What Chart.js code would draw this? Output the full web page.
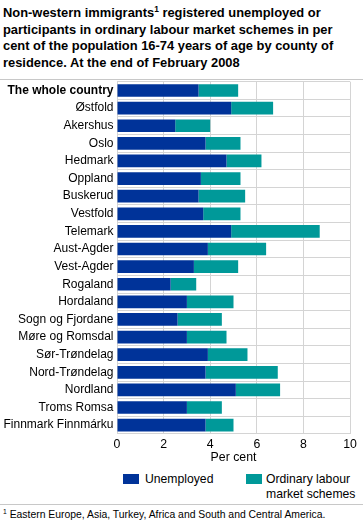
<!DOCTYPE html>
<html>
<head>
<meta charset="utf-8">
<script src="https://cdn.jsdelivr.net/npm/chart.js@4.4.1/dist/chart.umd.min.js"></script>
<style>
  html, body { margin:0; padding:0; background:#fff; }
  body { width:363px; height:523px; position:relative; overflow:hidden; font-family:'Liberation Sans', Arial, sans-serif; color:#000; }
  #title { position:absolute; left:3px; top:5px; width:360px; font-weight:bold; font-size:12.9px; line-height:16.7px; white-space:nowrap; }
  #title sup, #foot sup { font-size:65%; line-height:0; vertical-align:super; }
  .sep { position:absolute; left:0; width:363px; height:1px; background:#c8c8c8; }
  #wrap { position:absolute; left:0; top:71px; width:363px; height:393px; }
  #legend { position:absolute; top:472px; left:0; width:363px; font-size:12.2px; line-height:15px; }
  .box { position:absolute; top:2px; width:16px; height:10px; }
  .lbl { position:absolute; top:0; white-space:nowrap; }
  #foot { position:absolute; left:3px; top:509px; font-size:10.4px; white-space:nowrap; }
</style>
</head>
<body>
<div id="title">Non-western immigrants<sup>1</sup> registered unemployed or<br>participants in ordinary labour market schemes in per<br>cent of the population 16-74 years of age by county of<br>residence. At the end of February 2008</div>
<div id="wrap"><canvas id="c"></canvas></div>
<div class="sep" style="top:79px"></div>
<div id="legend"></div>
<div class="sep" style="top:504px"></div>
<div id="foot"><sup>1</sup> Eastern Europe, Asia, Turkey, Africa and South and Central America.</div>
<script>
const categories = ["The whole country","Østfold","Akershus","Oslo","Hedmark","Oppland","Buskerud","Vestfold","Telemark","Aust-Agder","Vest-Agder","Rogaland","Hordaland","Sogn og Fjordane","Møre og Romsdal","Sør-Trøndelag","Nord-Trøndelag","Nordland","Troms Romsa","Finnmark Finnmárku"];
const unemployed = [3.5,4.9,2.5,3.8,4.7,3.6,3.5,3.7,4.9,3.9,3.3,2.3,3.0,2.6,3.0,3.9,3.8,5.1,3.0,3.8];
const schemes    = [1.7,1.8,1.5,1.5,1.5,1.7,2.0,1.6,3.8,2.5,1.9,1.1,2.0,1.9,1.7,1.7,3.1,1.9,1.5,1.2];
const seriesNames = ["Unemployed","Ordinary labour market schemes"];
const seriesLegendLines = [["Unemployed"],["Ordinary labour","market schemes"]];
const xTicks = [0,2,4,6,8,10];
const axisTitle = "Per cent";
const colors = ["#003399","#009999"];

const FONT = "'Liberation Sans', Arial, sans-serif";
Chart.defaults.font.family = FONT;
Chart.defaults.color = "#000";

new Chart(document.getElementById('c'), {
  type: 'bar',
  data: {
    labels: categories,
    datasets: [
      { label: seriesNames[0], data: unemployed, backgroundColor: colors[0] },
      { label: seriesNames[1], data: schemes, backgroundColor: colors[1] }
    ]
  },
  options: {
    indexAxis: 'y',
    responsive: true,
    maintainAspectRatio: false,
    animation: false,
    datasets: { bar: { categoryPercentage: 0.72, barPercentage: 1 } },
    layout: { padding: { top: 2.5, right: 13, left: 3, bottom: 0 } },
    plugins: { legend: { display: false }, tooltip: { enabled: false } },
    scales: {
      x: {
        stacked: true, min: 0, max: 10,
        afterBuildTicks: (s) => { s.ticks = xTicks.map(v => ({ value: v })); },
        grid: { color: '#d4d4d4', drawTicks: false, lineWidth: 1 },
        border: { display: false },
        ticks: { font: { size: 12.3 }, padding: 3.5 },
        title: { display: true, text: axisTitle, font: { size: 12.3, lineHeight: 1 }, padding: { top: -4, bottom: 0 } }
      },
      y: {
        stacked: true,
        afterFit: (s) => { s.width = 114; },
        grid: { color: '#d4d4d4', drawTicks: false, offset: true },
        border: { display: true, color: '#d4d4d4' },
        ticks: {
          autoSkip: false,
          padding: 3.5,
          font: (ctx) => ctx.index === 0 ? { size: 12.0, weight: 'bold' } : { size: 12.0 }
        }
      }
    }
  }
});

const legend = document.getElementById('legend');
const pos = [{box:123, txt:145}, {box:246, txt:266}];
seriesNames.forEach((n, i) => {
  const b = document.createElement('div');
  b.className = 'box'; b.style.left = pos[i].box + 'px'; b.style.background = colors[i];
  legend.appendChild(b);
  const t = document.createElement('div');
  t.className = 'lbl'; t.style.left = pos[i].txt + 'px';
  t.innerHTML = seriesLegendLines[i].join('<br>');
  legend.appendChild(t);
});
</script>
</body>
</html>
